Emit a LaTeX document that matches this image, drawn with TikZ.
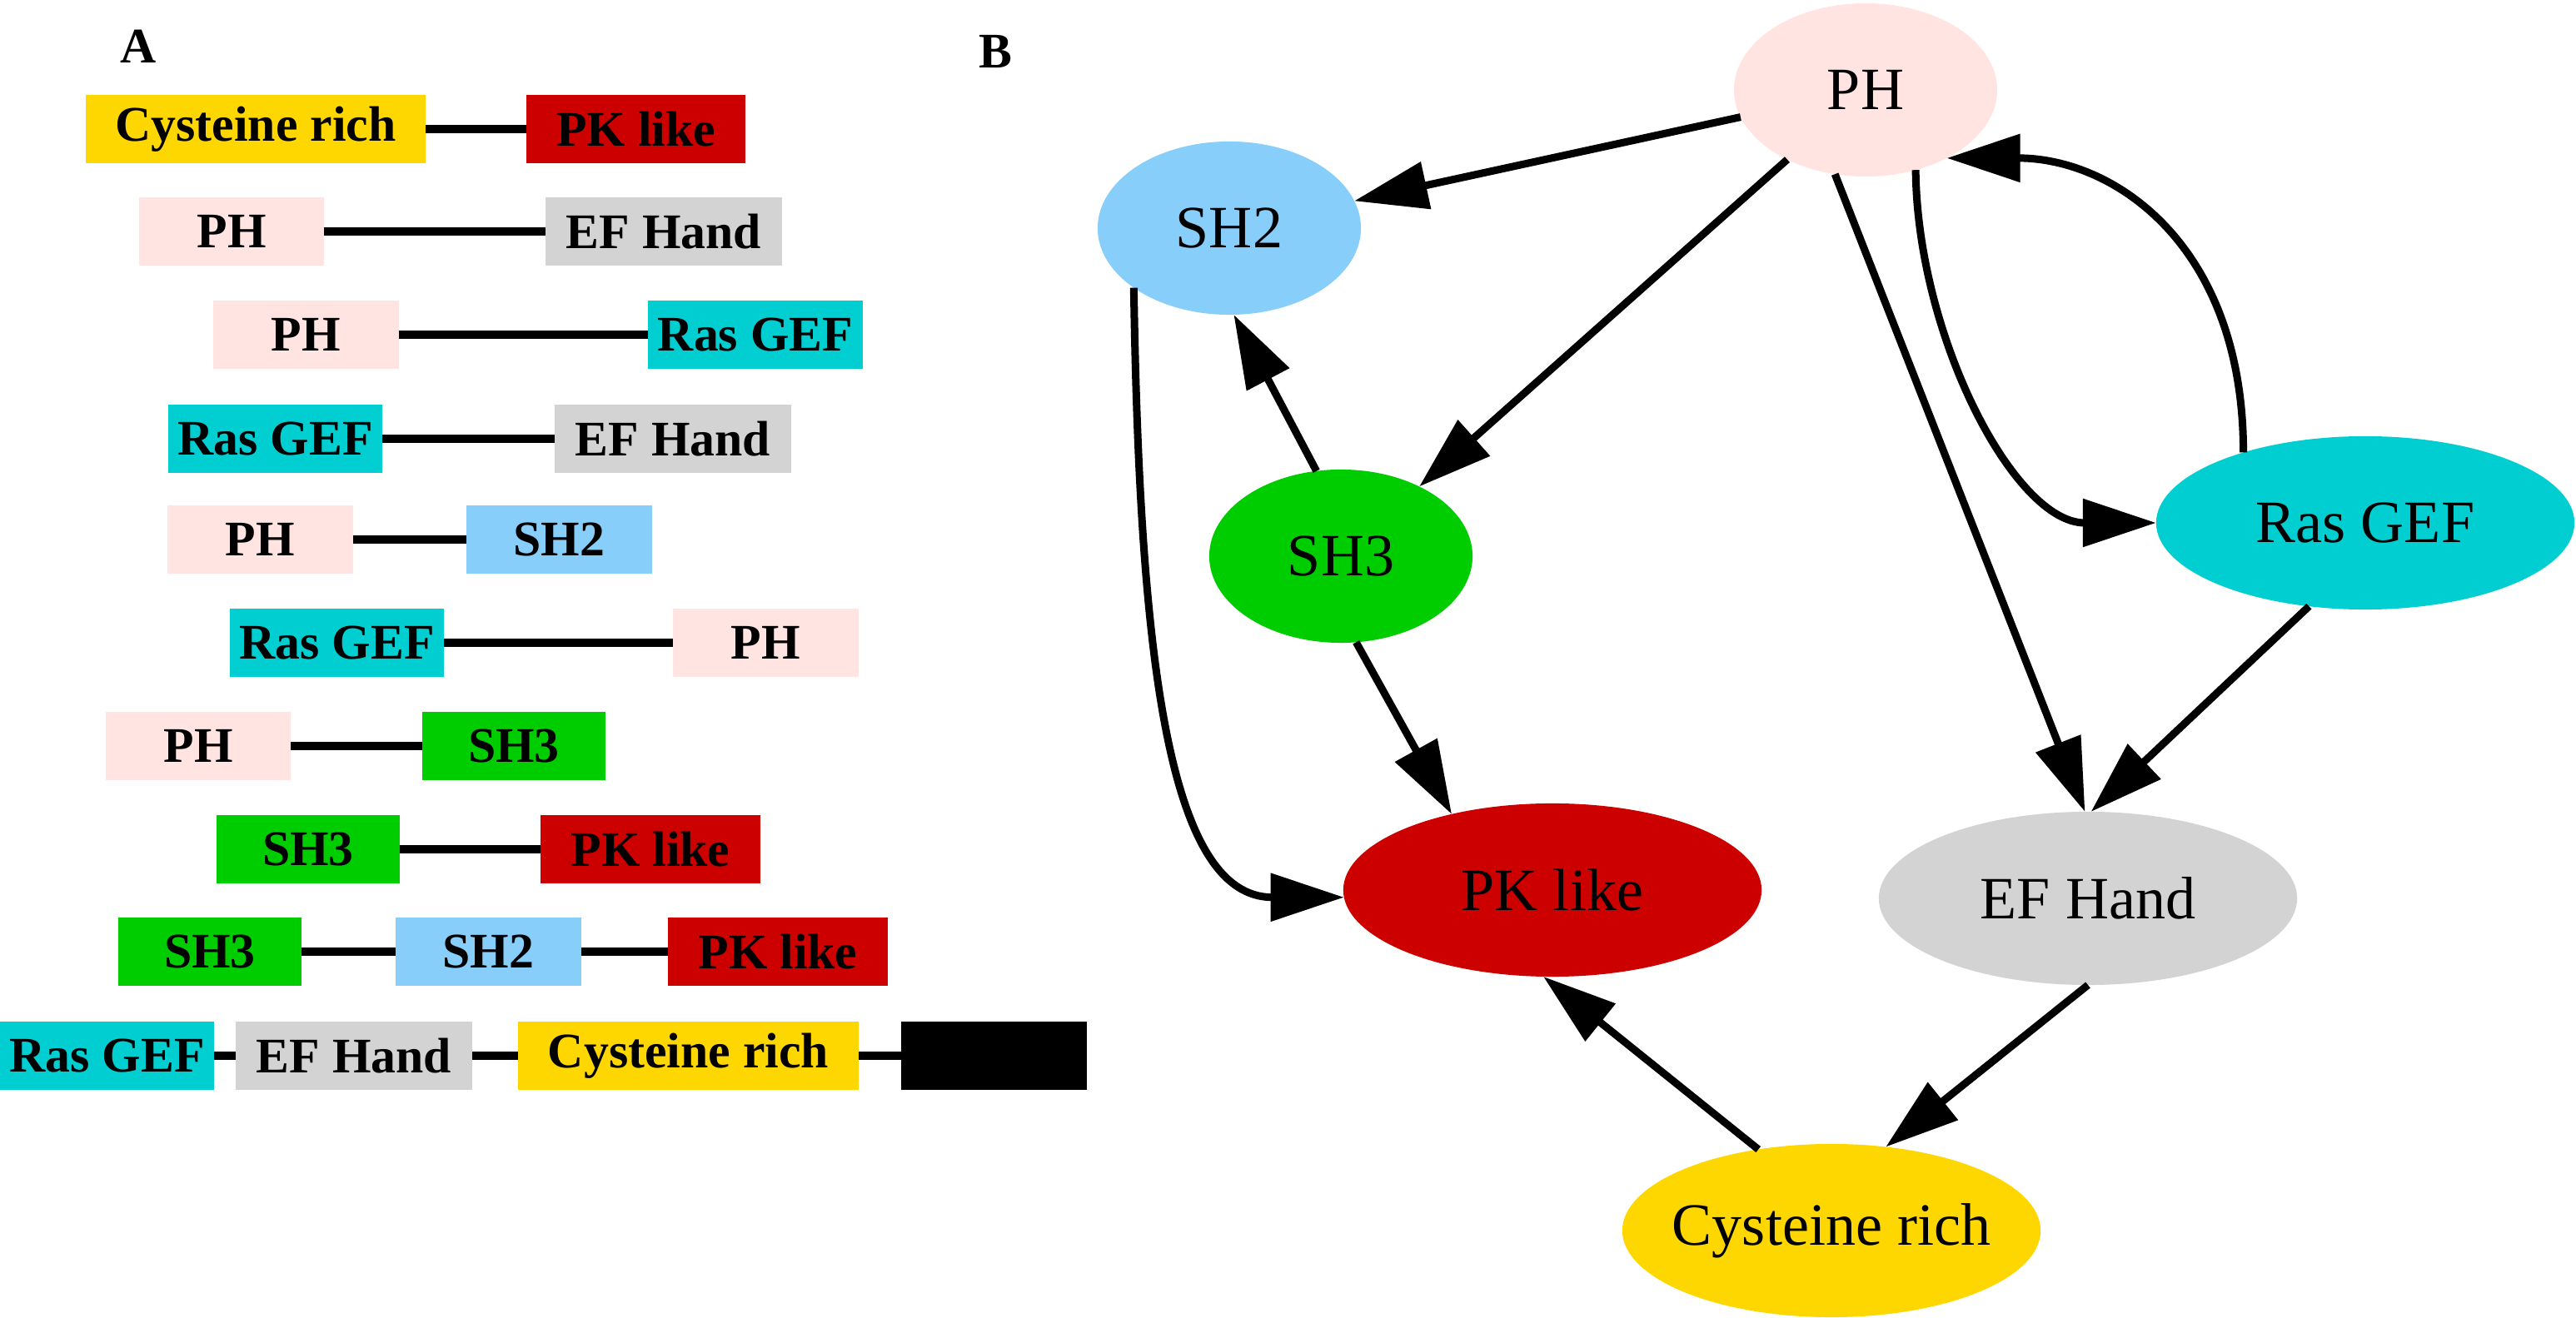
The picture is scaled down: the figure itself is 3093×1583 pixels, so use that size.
\documentclass[tikz,border=0pt]{standalone}
\usepackage{fontspec}
\setmainfont{Liberation Serif}
\usepackage{tikz}
\usetikzlibrary{arrows.meta, shapes.geometric, positioning}

\definecolor{phcol}{HTML}{FFE4E1}
\definecolor{efcol}{HTML}{D3D3D3}
\definecolor{rascol}{HTML}{00CED1}
\definecolor{sh2col}{HTML}{87CEFA}
\definecolor{sh3col}{HTML}{00CD00}
\definecolor{pkcol}{HTML}{CD0000}
\definecolor{cyscol}{HTML}{FFD700}

\newcommand{\ctext}[1]{\makebox[0pt]{#1}}

\begin{document}
\begin{tikzpicture}[
  x=0.01cm, y=-0.01cm,
  dombox/.style={
    rectangle, inner sep=0pt, outer sep=0pt,
    minimum height=0.81cm,
    font=\fontsize{17}{20}\selectfont\bfseries
  },
  phbox/.style={dombox, fill=phcol,  minimum width=2.22cm},
  efbox/.style={dombox, fill=efcol,  minimum width=2.83cm},
  rasbox/.style={dombox, fill=rascol, minimum width=2.57cm},
  sh2box/.style={dombox, fill=sh2col, minimum width=2.23cm},
  sh3box/.style={dombox, fill=sh3col, minimum width=2.19cm},
  pkbox/.style={dombox, fill=pkcol,  minimum width=2.63cm},
  cysbox/.style={dombox, fill=cyscol, minimum width=4.08cm},
  blkbox/.style={dombox, fill=black,  minimum width=2.23cm},
  link/.style={line width=0.1cm},
  dom/.style={
    ellipse, inner sep=0pt, outer sep=0pt,
    minimum height=2.08cm,
    font=\fontsize{20.5}{24}\selectfont
  },
  elsmall/.style={dom, minimum width=3.16cm},
  ellarge/.style={dom, minimum width=5.02cm},
  arrow/.style={-{Triangle[length=0.88cm, width=0.56cm]}, line width=0.09cm},
  panel/.style={font=\fontsize{17}{20}\selectfont\bfseries}
]
\useasboundingbox (0,0) rectangle (3093,1583);

%% ─── Panel labels ────────────────────────────────────────────────────────────
\node[panel] (labA) at (166,56) {A};
\node[panel] (labB) at (1195,62) {B};

%% ─── A: domain architectures ─────────────────────────────────────────────────
\node[cysbox] (r1a) at (307,155)    {Cysteine rich};
\node[pkbox]  (r1b) at (763.5,155)  {PK like};

\node[phbox]  (r2a) at (278,278)    {PH};
\node[efbox]  (r2b) at (797,278)    {EF Hand};

\node[phbox]  (r3a) at (367.5,402)  {PH};
\node[rasbox] (r3b) at (907,402)    {Ras GEF};

\node[rasbox] (r4a) at (330.5,527)  {Ras GEF};
\node[efbox]  (r4b) at (808,527)    {EF Hand};

\node[phbox]  (r5a) at (312.5,648)  {PH};
\node[sh2box] (r5b) at (671.5,648)  {SH2};

\node[rasbox] (r6a) at (404.5,772)  {Ras GEF};
\node[phbox]  (r6b) at (919.5,772)  {PH};

\node[phbox]  (r7a) at (238,896)    {PH};
\node[sh3box] (r7b) at (617,896)    {SH3};

\node[sh3box] (r8a) at (370,1020)   {SH3};
\node[pkbox]  (r8b) at (781,1020)   {PK like};

\node[sh3box] (r9a) at (252,1143)   {SH3};
\node[sh2box] (r9b) at (586.5,1143) {SH2};
\node[pkbox]  (r9c) at (934,1143)   {PK like};

\node[rasbox] (r10a) at (128.5,1268)  {Ras GEF};
\node[efbox]  (r10b) at (425,1268)    {EF Hand};
\node[cysbox] (r10c) at (826.5,1268)  {Cysteine rich};
\node[blkbox] (r10d) at (1193.5,1268) {};

\draw[link] (r1a.east) -- (r1b.west);
\draw[link] (r2a.east) -- (r2b.west);
\draw[link] (r3a.east) -- (r3b.west);
\draw[link] (r4a.east) -- (r4b.west);
\draw[link] (r5a.east) -- (r5b.west);
\draw[link] (r6a.east) -- (r6b.west);
\draw[link] (r7a.east) -- (r7b.west);
\draw[link] (r8a.east) -- (r8b.west);
\draw[link] (r9a.east) -- (r9b.west);
\draw[link] (r9b.east) -- (r9c.west);
\draw[link] (r10a.east) -- (r10b.west);
\draw[link] (r10b.east) -- (r10c.west);
\draw[link] (r10c.east) -- (r10d.west);

%% ─── B: domain graph ─────────────────────────────────────────────────────────
\node[elsmall, fill=phcol]  (ph)  at (2240,108)  {\ctext{PH}};
\node[elsmall, fill=sh2col] (sh2) at (1476,274)  {\ctext{SH2}};
\node[elsmall, fill=sh3col] (sh3) at (1610,668)  {\ctext{SH3}};
\node[ellarge, fill=rascol] (ras) at (2840,628)  {\ctext{Ras GEF}};
\node[ellarge, fill=pkcol]  (pk)  at (1864,1069) {\ctext{PK like}};
\node[ellarge, fill=efcol]  (ef)  at (2507,1079) {\ctext{EF Hand}};
\node[ellarge, fill=cyscol] (cys) at (2199,1478) {\ctext{Cysteine rich}};

\draw[arrow] (ph) -- (sh2);
\draw[arrow] (ph) -- (sh3);
\draw[arrow] (ph.250) -- (ef.92);
\draw[arrow] (ph.-58) .. controls +(2,200) and +(-170,0) .. (ras.west);
\draw[arrow] (ras.150) .. controls +(0,-250) and +(200,0) .. (ph.-40);
\draw[arrow] (ras.236) -- (ef.88);
\draw[arrow] (sh3.106) -- (sh2.-87);
\draw[arrow] (sh3.-80) -- (pk.143);
\draw[arrow] (sh2.212) .. controls +(7,450) and +(-210,0) .. (pk.182);
\draw[arrow] (ef.-90) -- (cys.57);
\draw[arrow] (cys.132) -- (pk.-96);

\end{tikzpicture}
\end{document}
